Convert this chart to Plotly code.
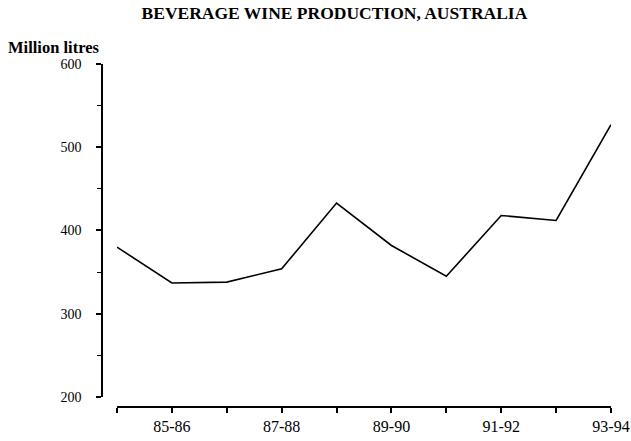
import plotly.graph_objects as go

# Datos
years = ["84-85", "85-86", "86-87", "87-88", "88-89",
         "89-90", "90-91", "91-92", "92-93", "93-94"]
production = [380, 337, 338, 354, 433, 382, 345, 418, 412, 527]
tick_labels = ["", "85-86", "", "87-88", "", "89-90", "", "91-92", "", "93-94"]

SERIF = "Liberation Serif, Times New Roman, serif"

fig = go.Figure()

fig.add_trace(go.Scatter(
    x=years,
    y=production,
    mode='lines',
    line=dict(color='black', width=1.6),
    showlegend=False,
    hoverinfo='skip'
))

fig.update_layout(
    width=631,
    height=441,
    margin=dict(l=102, r=20, t=64, b=34),
    paper_bgcolor='white',
    plot_bgcolor='white',
    font=dict(family=SERIF, size=15, color='black'),
    title=dict(
        text='<b>BEVERAGE WINE PRODUCTION, AUSTRALIA</b>',
        x=0.53,
        xanchor='center',
        y=1 - 13 / 441,
        yanchor='middle',
        pad=dict(t=0, b=0, l=0, r=0),
        font=dict(family=SERIF, size=17.5, color='black')
    ),
    xaxis=dict(
        type='category',
        domain=[0.0295, 1],
        range=[0, 9],
        anchor='free',
        position=0,
        automargin=False,
        showline=True,
        linecolor='black',
        linewidth=1.6,
        ticks='outside',
        ticklen=5,
        tickwidth=1.6,
        tickcolor='black',
        tickvals=years,
        ticktext=tick_labels,
        showgrid=False,
        zeroline=False,
        tickfont=dict(family=SERIF, size=16)
    ),
    yaxis=dict(
        domain=[0.0292, 1],
        range=[200, 600],
        anchor='free',
        position=0,
        automargin=False,
        showline=True,
        linecolor='black',
        linewidth=1.6,
        ticks='outside',
        ticklen=5,
        tickwidth=1.6,
        tickcolor='black',
        dtick=100,
        minor=dict(dtick=50, ticks='outside', ticklen=4, tickcolor='black', tickwidth=1),
        showgrid=False,
        zeroline=False,
        ticklabelstandoff=12,
        tickfont=dict(family=SERIF, size=14)
    ),
    annotations=[dict(
        text='<b>Million litres</b>',
        xref='paper', yref='paper',
        x=-0.188, y=1.016,
        xanchor='left', yanchor='bottom',
        showarrow=False,
        font=dict(family=SERIF, size=16.5, color='black')
    )]
)

# sin margen en el body para que la figura ocupe la ventana desde (0, 0)
fig.write_html("out.html", config={'displayModeBar': False},
               post_script="document.body.style.margin = '0px';")
